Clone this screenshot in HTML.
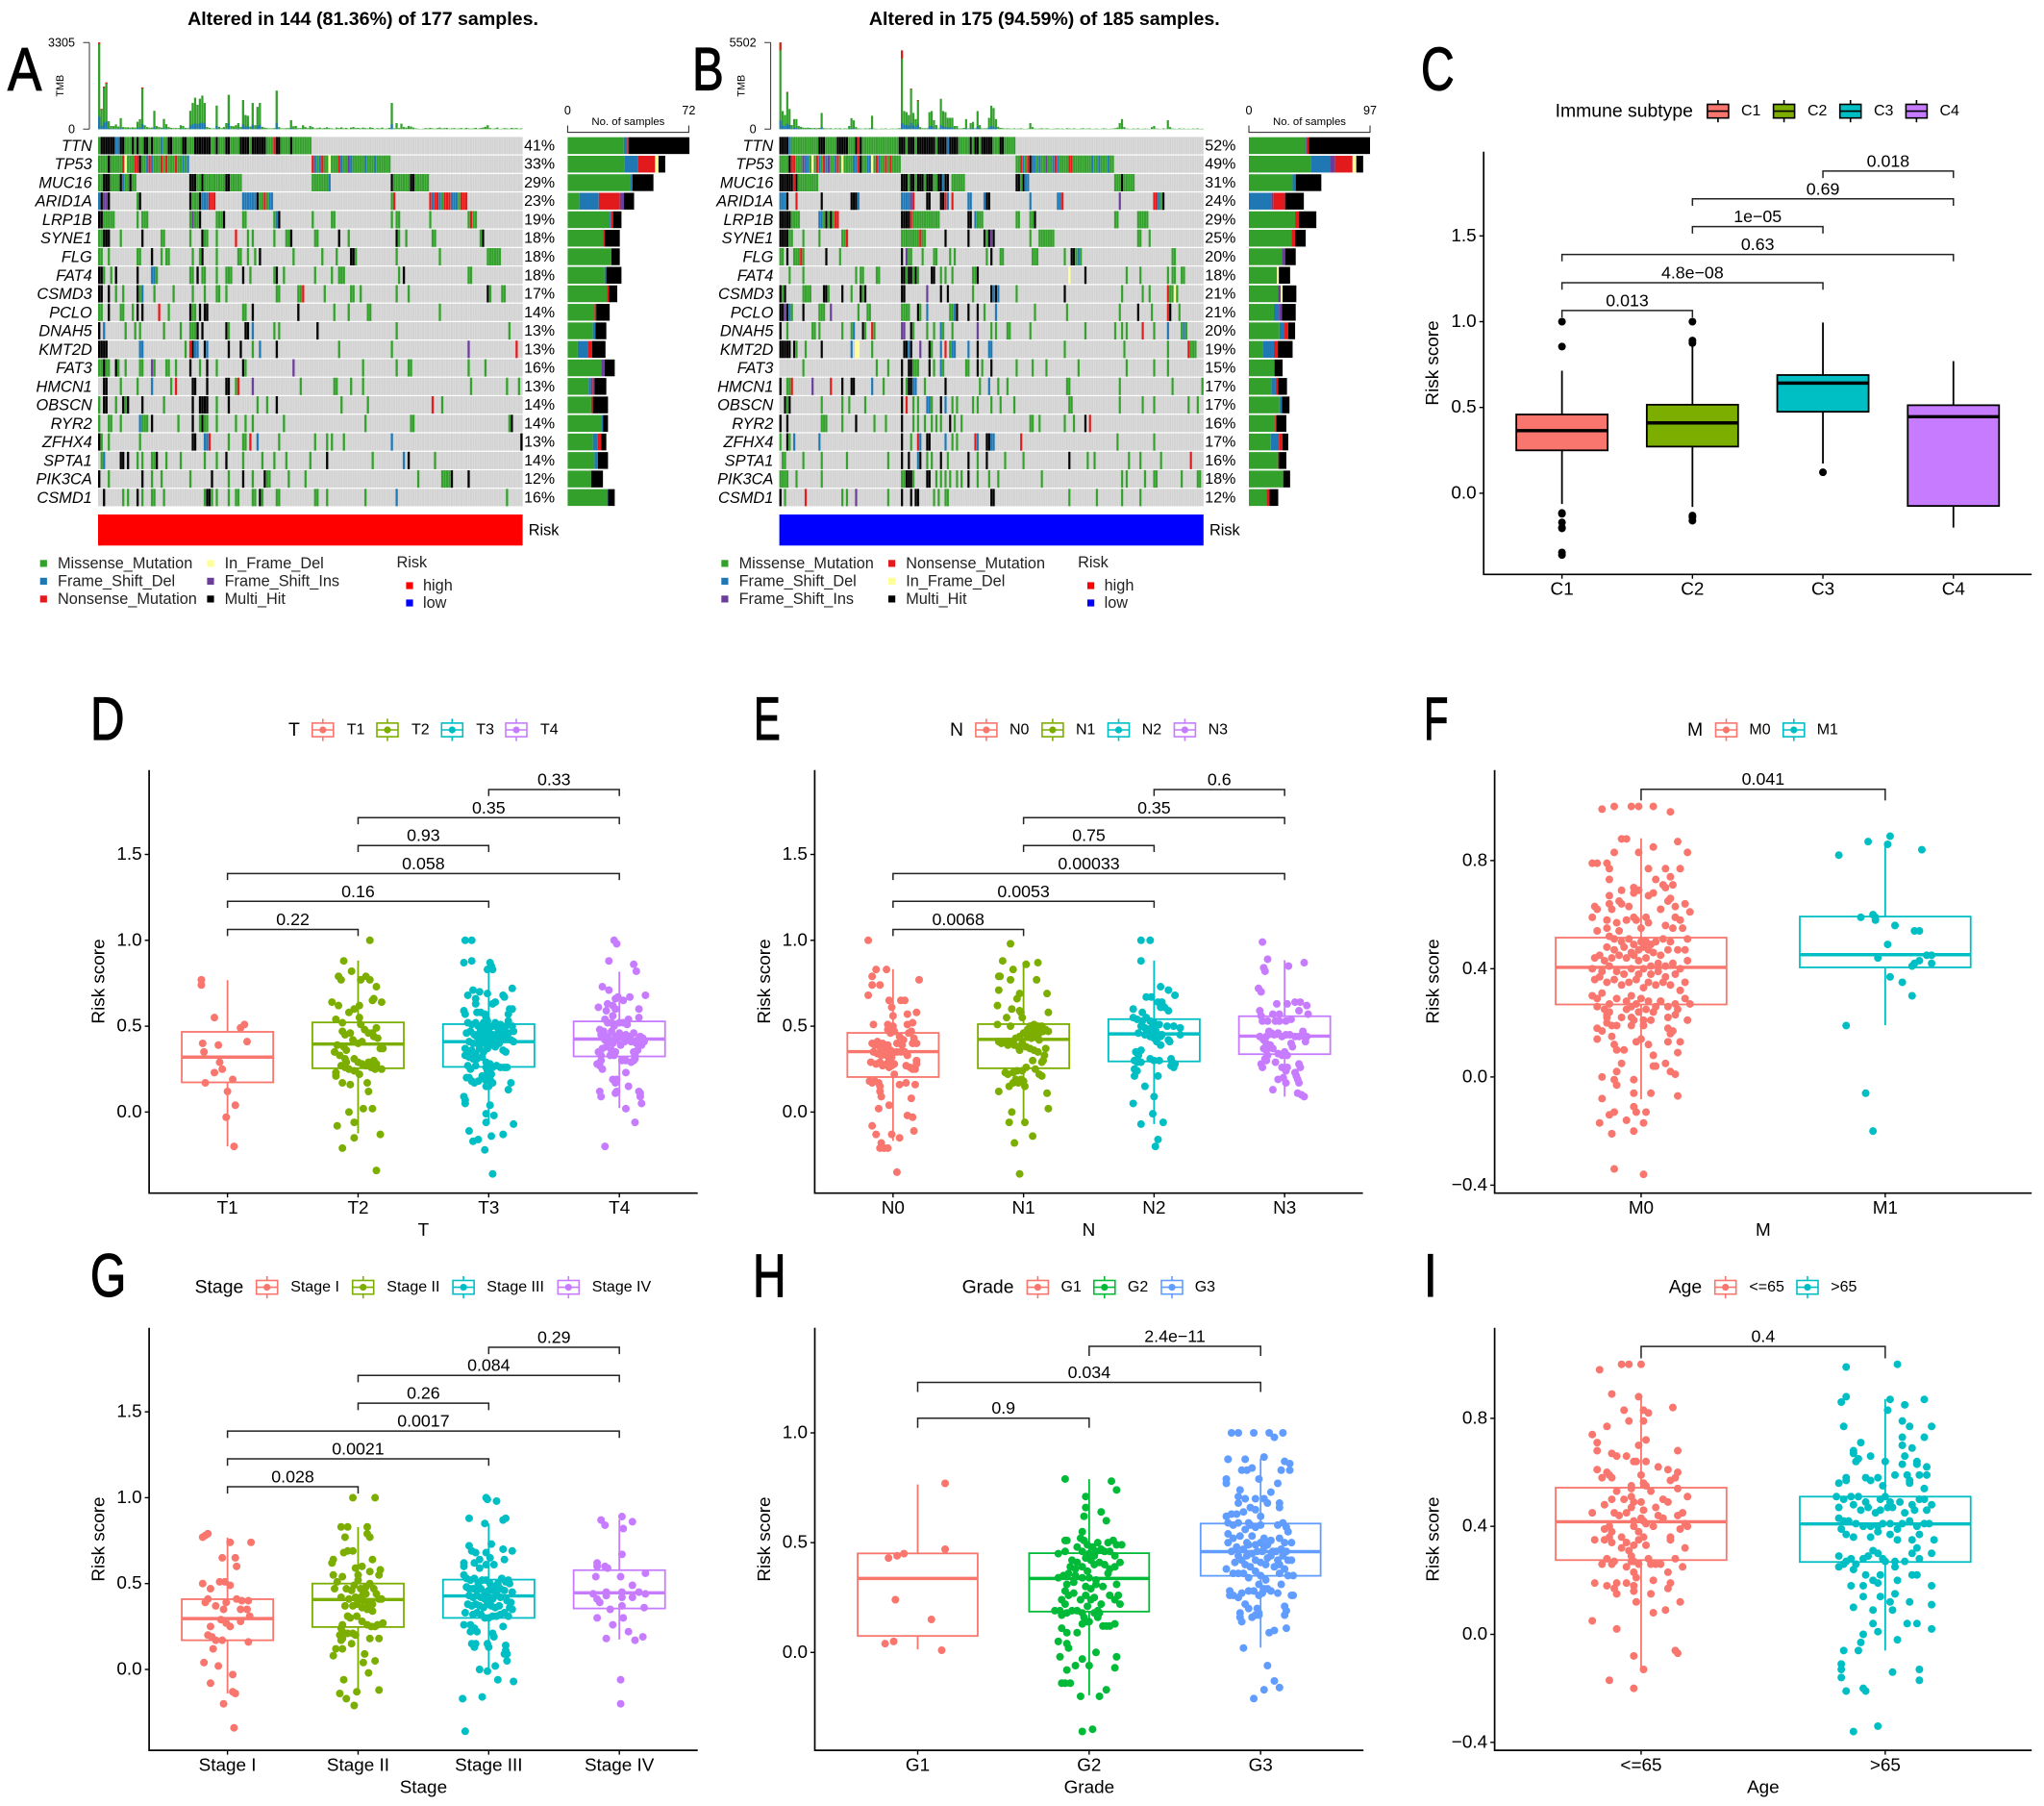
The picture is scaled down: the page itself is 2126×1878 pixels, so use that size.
<!DOCTYPE html>
<html lang="en">
<head>
<meta charset="utf-8">
<title>Risk score figure panels A-I</title>
<style>
html,body{margin:0;padding:0;background:#fff;}
svg{display:block;font-family:"Liberation Sans",Arial,sans-serif;}
.letter{font-size:63px;fill:#000;stroke:#000;stroke-width:1.2px;}
</style>
</head>
<body>
<svg id="figure" xmlns="http://www.w3.org/2000/svg" width="2126" height="1878" viewBox="0 0 2126 1878">
<rect width="2126" height="1878" fill="#fff"/>
<text class="letter" transform="translate(8,93.5) scale(.84,1)">A</text>
<text class="letter" transform="translate(720,93.5) scale(.78,1)">B</text>
<text class="letter" transform="translate(1478,93.5) scale(.76,1)">C</text>
<text class="letter" transform="translate(94,769) scale(.78,1)">D</text>
<text class="letter" transform="translate(784,769) scale(.66,1)">E</text>
<text class="letter" transform="translate(1481,769) scale(.66,1)">F</text>
<text class="letter" transform="translate(94,1348) scale(.76,1)">G</text>
<text class="letter" transform="translate(783,1348) scale(.76,1)">H</text>
<text class="letter" transform="translate(1481,1348) scale(.78,1)">I</text>
<text x="377.5" y="19.8" font-size="19.6" font-weight="bold" text-anchor="middle" dominant-baseline="central">Altered in 144 (81.36%) of 177 samples.</text>
<text x="1086.3" y="19.8" font-size="19.6" font-weight="bold" text-anchor="middle" dominant-baseline="central">Altered in 175 (94.59%) of 185 samples.</text>
</svg>
<script>
/* ---------- oncoplot data ---------- */
const geneNames=["TTN","TP53","MUC16","ARID1A","LRP1B","SYNE1","FLG","FAT4","CSMD3","PCLO","DNAH5","KMT2D","FAT3","HMCN1","OBSCN","RYR2","ZFHX4","SPTA1","PIK3CA","CSMD1"];
const variantColors={m:"#33a02c",b:"#1f78b4",r:"#e31a1c",p:"#6a3d9a",y:"#ffff99",k:"#000000"};
const aPercentLabels=["41%","33%","29%","23%","19%","18%","18%","18%","17%","14%","13%","13%","16%","13%","14%","14%","13%","14%","12%","16%"];
const bPercentLabels=["52%","49%","31%","24%","29%","25%","20%","18%","21%","21%","20%","19%","15%","17%","17%","16%","17%","16%","18%","12%"];
/* each token: first sample index, variant letter, run length */
const aMutationRuns=[
"0m1 1k6 7b2 9k2 11m3 14k1 15m1 16k1 17m2 19k2 21m1 22k1 23m3 26b1 27m2 29k2 31m4 35k2 37m3 40k7 47m2 49k1 50m3 53k2 55m4 59k4 63m1 64k6 70m3 73r1 74k2 76m4 80k1 81m8",
"0m4 4k1 5m5 10r1 11y1 12m3 15r2 17k1 18m2 20b1 21r1 22b1 23m3 26r1 27m1 28r1 29m3 32r1 33m2 35b1 36m1 37b1 89r1 90b1 91m1 92b1 93r1 94m2 96y1 97m3 100r1 101b1 102m2 104p1 105b1 106m5 111b1 112m3 115b1 116m6",
"0m2 2k3 5m4 9k1 10b1 11m2 13k1 14m2 38k3 41m2 43k1 44m9 53k2 55m5 89m7 96b1 122k1 123m7 130k2 132m6",
"0b1 1k1 2p2 4k1 16m1 17k1 38k1 39m3 42k1 43b3 46r3 60b6 66k1 67m2 69r1 70m1 71b2 122m1 123r1 138r1 139b1 140r2 142b1 143m1 144r3 147b3 150m1 151r3",
"0k2 2m5 16m1 18m3 38m1 39p1 40m2 42k1 49m3 52k1 60m2 73m1 74b1 75k1 89m1 97m2 122m1 124m2 138m1 154m1 155r1 156m2",
"0m2 2k3 9m1 18k1 26m2 38m1 43k1 44m2 49m1 57r1 62m1 64m1 73m1 78m2 80k1 90m2 100k1 104m1 124k1 125m1 128m1 139m2 159m1 160k1",
"0m2 4m1 16m2 22k1 26m1 28m2 39m1 42m1 43k1 49m1 58m2 62m1 65m1 67k1 81m1 93m1 99m1 105k2 107m1 124m1 142m1 162m6",
"0k2 2m1 5m1 7k1 16k1 22b2 24m1 38m2 41k1 43m2 49m1 53m3 60k1 63m1 73m1 74k1 77m1 90m1 97m1 100m3 125m1 127k1 154m2",
"0k2 4k1 7m1 10m1 16k1 17m1 18b1 23m1 31m1 39m1 44m1 49m2 53m1 74m2 83m2 85r1 94m1 105m2 109m1 124m1 129m1 162k1 163m1 168m2",
"0m2 4k1 9m2 14m1 16k1 18k1 25r1 29m1 38k1 39m2 42k1 44k2 60m2 64k1 83k1 98m1 104m1 112m2 142m1",
"0k1 2b1 11m1 15m1 17m1 27m1 34m1 38m3 41k1 43k1 53k1 54m1 61k2 64b1 73m1 75m1 91k1 124m1 171m1",
"0k4 17b2 36m1 38r1 39k1 40b2 44k1 45b1 54k1 59k1 64m1 67b1 74k1 100m1 122m1 154p1 174r1",
"0m2 2k1 3m2 7k1 8m1 11m1 17m2 22p1 23m1 28m2 32m1 38k1 42m1 45k1 49m1 60k1 61m1 81p1 110m1 124m1 129m2 154m1 161m1",
"2k2 9m1 16m1 22b1 30m1 32r1 39k2 45k1 53k2 57m1 58r1 64p1 84m1 98m2 105m1 110m1 155m1 170m1 175m1",
"0m1 2k2 7m1 10k1 11m1 12k1 18k1 27m1 39k1 42k4 49m1 54k1 66m1 70m1 74k1 101m1 112m1 139r1 143m1",
"0m1 4m2 9m1 17b1 18m3 22k1 33m1 39k1 42m1 43k1 44m2 49m1 57m1 61m1 64m1 77m1 111m1 130m2 171m1 172k1",
"0k1 1m1 4m1 17m1 39k2 44b2 46r1 54m1 60m2 63r1 66b1 75m1 90m1 95m1 97m1 102m1 122b1 176k1",
"1m1 2b1 9k2 12k1 16m1 18m1 22m2 24k1 28m1 34m1 44m1 49m1 53k1 60m1 68m1 73m1 78m1 88m1 95k1 114m1 127b1 129k1 140m1",
"0k1 4m1 18k1 22m1 26m1 38m1 47k1 54m1 60k1 64m1 69k1 70m2 79m1 86m1 133m1 143m4 147k1 154k1",
"2k1 10m1 12m1 16k1 18m1 22m2 27m1 44m1 45k2 47m1 49m1 54m1 57m2 64m2 67k1 68m1 74m2 90m2 95m1 111m1 124b1 170m1"];
const bMutationRuns=[
"0k4 4b1 5m12 17k3 20m5 25k5 30m3 33k1 34r1 35k1 36m16 52k3 55m1 56k3 59m1 60k8 68m1 69k4 73b1 74k4 78m5 83k1 84m1 85k2 87m1 88k5 93m3 96k2 98m5",
"0m4 4k1 5r2 7m3 10p1 11b2 13m1 14y1 15m1 16r1 17b1 18m1 19r1 20b1 21p1 22m2 24b1 25r1 26m1 27y1 28m4 32b2 34r1 35k1 36m2 38b2 40y1 41m1 42r1 43b1 44m2 46r1 47m1 48r1 49m4 103m2 105r1 106b1 107m1 108r1 109k1 110b2 112m1 113b1 114m2 116p1 117m2 119b1 120r1 121b1 122m4 126r2 128m8 136b1 137m2 139b1 140m3 143b1 144m2",
"0k6 6r1 7k1 8m9 53k3 56m1 57k2 59m1 60k3 63m1 64k3 67m2 69k2 71b1 72k2 75m6 103k2 105m1 106k1 107b2 146m3 149k1 150m5",
"0b3 3k1 7r1 18k1 31k3 34b1 53b4 57p1 58r1 64k2 70k2 72r1 73b1 75r1 82b2 89b1 90k2 109b1 121b2 123r1 148p1 163r2 165b1 166m1 167k1",
"0k5 5m4 17b2 19m1 20k1 21m1 22k1 23m1 24r2 53k4 57r1 58m12 82k2 85b1 86m3 103m2 109m2 111k1 146m2 156m5",
"0k4 4m2 10m1 17m1 27m3 29r1 53m8 61r1 62m2 72k1 82k1 89k1 90m1 91k1 92p1 93k1 109m1 113m7 156m2 161m1",
"0m2 3k1 6m3 9r1 10m1 20k1 26m1 53k1 55p1 56m2 62m1 67m2 74m1 76m1 90m1 92k1 96m2 110m3 124m1 127k2 129m1 130b1 131m1 171m2",
"4m1 10m1 33m1 35m2 42m2 53k2 55m1 56k2 58m1 59k1 60m1 66k2 70m1 72m1 75m1 84m2 86k1 126y1 133k1 151m1 157m1 169m1 171m2 175m2",
"0k1 1m1 2k1 10m4 19k2 21m1 27k1 31m1 35k1 36m1 37k1 53k2 64p1 70k1 73k1 84m1 92k1 93b1 94k1 95b1 103m1 124k1 149m1 158m1 161m1 169r1 170m2 172y1 173m1",
"0k2 2p1 3k1 4b1 5m1 10k1 17m3 22p1 34m1 38m2 53m4 60k1 61m1 64b1 74m2 76b1 77k1 82k1 86k1 89m1 94b1 111m1 125m1 148m1 156k1 162m1 169r1 170k1 174m1",
"0k1 3m1 14m2 17m1 27m1 31m1 32b1 36k1 37m1 40r1 41m1 53p2 57k1 58m1 64m1 67m1 70b1 71m1 75m1 86p1 92m1 94m1 99m2 109m1 133m1 146m1 149m1 151m1 158r1 163m1 169b1 175m1 176b1 177m1",
"0k5 6k1 7m1 11m1 18k1 31b1 33y2 40m1 54k2 56b1 57k1 61p1 65k1 66m1 70b1 72r1 74m1 75b2 82b1 86k1 91b2 124m1 150m1 169m1 178r1 179m3",
"10m1 42m1 47m1 53k1 56k2 58m3 65k1 67m1 70b1 71m1 81m2 86k1 88m1 92k1 103m1 110m1 116m1 130m1 151m1 163m1 169m1",
"0k1 3m2 5r1 14p1 22r1 27k1 31k2 40b1 45m1 53k1 55m1 56k2 58b2 63m1 72k1 87m1 91b1 95m1 99m1 125m2 148m1 171m1 184m1",
"2k1 3m1 4k1 18m1 27m1 30m1 37m1 53k1 55r1 58m1 60m1 64b2 66m1 70k1 72b1 75m1 77m1 84m1 86m1 92m1 96m1 102m1 126m2 148m1 158m1 163m1 178m1 182m1",
"0k1 3k1 18m3 27m1 33k1 41m1 46m1 53k1 58m1 60m1 63m1 66m1 68m1 70m1 74k1 76m1 79m1 109m2 113m1 124m1 128m1 133k1 135r1",
"0m1 3k1 4m1 6b1 17b1 53k1 57m1 60r1 61b1 64k2 72b1 75m1 77m1 85r1 86b1 90k2 92b2 105r1 147m1 163m1",
"1m2 10m1 18m1 29m1 47m1 53k1 56k1 60b1 61k1 64m1 66m1 70k1 73m1 82k1 86m1 90k1 98m1 106m1 126k1 134m1 137m1 152m1 157m1 166m1 179r1",
"0m4 7m1 18m1 53m2 55k3 58m1 64k2 68m1 70m1 72m1 74m1 77m1 79m1 82k1 86m1 91m1 95m1 114m1 149m1 151m1 159m1 163m2 175m1 182m2",
"0k1 2m1 11r1 27m1 29m1 33p1 47m1 53k1 57k1 59k2 67m1 69m1 72m2 92k2 126m1 138m1 149m1 157m1"];
/* tumour mutation burden per sample */
const aTmbTotals=[3305,770,1620,1780,300,120,120,180,100,420,80,70,70,60,70,60,280,380,1590,150,80,60,60,700,120,80,60,390,190,80,50,40,40,40,150,120,50,40,700,1000,1200,930,1160,1280,1000,80,50,30,30,900,90,40,80,230,1310,120,110,150,230,80,1110,540,510,100,1000,150,850,1000,90,60,40,30,30,40,1470,80,30,30,40,40,340,110,120,40,40,150,80,40,120,80,30,40,60,30,50,70,40,30,20,60,40,70,30,50,20,60,80,40,50,30,60,40,30,70,50,20,40,30,60,20,30,50,1000,30,230,40,210,80,60,120,100,60,30,20,10,20,40,30,50,30,20,40,60,30,40,50,20,30,40,20,30,40,20,50,30,20,30,50,20,40,60,90,150,40,20,30,60,10,20,40,30,20,50,30,40,20,30];
const aTmbBlue=[480,120,250,300,30,10,10,20,10,50,5,5,5,5,5,5,40,60,200,10,5,5,5,80,10,5,5,40,20,5,5,0,0,0,15,10,5,0,130,190,210,190,230,260,220,5,0,0,0,120,5,0,5,20,230,10,5,15,20,5,190,100,100,5,170,10,130,170,5,5,0,0,0,0,230,5,0,0,0,0,40,10,10,0,0,10,5,0,10,5,0,0,0,0,0,0,0,0,0,0,0,0,0,0,0,0,0,0,0,0,0,0,0,0,0,0,0,0,0,0,0,0,190];
const aTmbRed=[60,30,40,50,0,0,0,0,0,0,0,0,0,0,0,0,0,0,40];
const bTmbTotals=[5502,1150,900,2360,1280,260,640,640,200,150,100,80,100,80,60,80,60,80,1030,60,50,40,60,30,50,40,60,30,50,40,200,700,560,130,50,40,30,50,40,60,850,40,30,20,40,30,50,20,30,40,30,40,60,5000,1150,1080,900,2570,1030,640,1850,130,60,60,60,1080,1150,570,260,50,1930,1150,1080,720,720,720,200,200,50,50,80,640,50,390,460,60,1150,260,50,50,60,720,1490,1340,640,150,80,60,40,50,40,30,50,30,40,50,30,20,40,390,130,40,30,40,60,30,50,40,20,30,40,50,30,40,20,60,40,30,50,30,20,40,60,30,40,50,20,30,40,20,30,50,40,20,30,40,60,100,390,640,130,40,30,20,40,30,50,20,30,40,30,20,130,200,40,30,20,50,30,570,130,40,30,20,50,30,40,20,30,20,40,30,50,20,30];
const bTmbBlue=[560,240,200,340,260,40,90,90,30,20,10,10,10,10,10,10,10,10,120,5,5,5,5,0,5,0,5,0,5,0,20,60,50,10,5,0,0,0,0,5,60,0,0,0,0,0,0,0,0,0,0,0,5,400,280,260,220,400,240,150,300,15,5,5,5,180,200,100,30,5,260,170,150,100,100,100,20,20,5,5,10,60,5,50,60,5,160,30,5,5,5,110,190,170,90];
const bTmbRed=[500,0,0,40,0,0,0,0,0,0,0,0,0,0,0,0,0,0,0,0,0,0,0,0,0,0,0,0,0,0,0,0,0,0,0,0,0,0,0,0,0,0,0,0,0,0,0,0,0,0,0,0,0,510,0,0,0,40,0,0,40];
const aTmbTicks=["3305","0"];
const bTmbTicks=["5502","0"];
/* sample counts per gene, by variant class */
const aBarMissense=[33.4,34,37,7,25,21,26,22,23.5,16,15,6,20,12.5,14,20,15,16,14,23.5];
const aBarFrameDel=[2,8,1.5,11.5,1,0,0,1,0,0,1.5,6,0,1.5,0,1,3,2,0,.5];
const aBarNonsense=[1,10,0,12.5,1,1,0,0,1,1,0,2.5,0,1,1,0,2,0,0,0];
const aBarFrameIns=[0,0,0,2.5,0,0,0,0,0,0,0,0,2,1,0,0,0,0,0,0];
const aBarInFrame=[0,2,0,0,0,0,0,0,0,0,0,0,0,0,0,0,0,0,0,0];
const aBarMultiHit=[36,4,12.5,6,5,9,5,9,5,8,6.5,8,6,7,9,3,3,6,7,4];
const bBarMissense=[45,49.5,35,0,37,34,26.5,22.5,23.5,20,24.5,11.5,20.5,18,24.5,21,17.5,23,27.5,14];
const bBarFrameDel=[1,15.5,2.5,18,0,0,0,0,0,4,4,8.5,0,3.5,2,0,6.5,0,0,0];
const bBarFrameIns=[0,4,0,1.5,0,0,2.5,0,2,2.5,0,0,0,0,0,0,0,0,0,0];
const bBarNonsense=[2,14,0,9.5,3,3,0,0,0,0,3,3,0,2,0,1,3,1,0,2.5];
const bBarInFrame=[0,3,0,0,0,0,0,1.5,1.5,0,0,0,0,0,0,0,0,0,0,0];
const bBarMultiHit=[49,5.5,20.5,15,14,8.5,8.5,9,11,11,5.5,12,6.5,7,6,8,4.5,6,5.5,7];
const aLegendColumnOne=[["Missense_Mutation","m"],["Frame_Shift_Del","b"],["Nonsense_Mutation","r"]];
const aLegendColumnTwo=[["In_Frame_Del","y"],["Frame_Shift_Ins","p"],["Multi_Hit","k"]];
const bLegendColumnOne=[["Missense_Mutation","m"],["Frame_Shift_Del","b"],["Frame_Shift_Ins","p"]];
const bLegendColumnTwo=[["Nonsense_Mutation","r"],["In_Frame_Del","y"],["Multi_Hit","k"]];

/* ---------- box-plot data: [low whisker, q1, median, q3, high whisker] ---------- */
const riskTickLabels=["1.5","1.0","0.5","0.0"];
const riskTickValues=[1.5,1,.5,0];
const wideTickLabels=["0.8","0.4","0.0","\u22120.4"];
const wideTickValues=[.8,.4,0,-.4];
const gradeTickLabels=["1.0","0.5","0.0"];
const gradeTickValues=[1,.5,0];

const cCategories=["C1","C2","C3","C4"];
const cBoxes=[[-.063,.25,.365,.459,.714],[-.08,.272,.41,.516,.87],[.173,.475,.642,.689,.995],[-.2,-.074,.446,.513,.77]];
const cOutliers=[[1,.855,-.115,-.12,-.17,-.2,-.205,-.345,-.36],[1,.89,.875,-.13,-.14,-.16],[.122],[]];
const cBrackets=[[2,3,1.878,"0.018"],[1,3,1.716,"0.69"],[1,2,1.554,"1e\u221205"],[0,3,1.392,"0.63"],[0,2,1.227,"4.8e\u221208"],[0,1,1.065,"0.013"]];

const dCategories=["T1","T2","T3","T4"];
const dBoxes=[[-.2,.173,.32,.467,.768],[-.124,.255,.396,.522,.882],[-.067,.263,.41,.512,.817],[.023,.324,.425,.528,.817]];
const dBrackets=[[2,3,1.878,"0.33"],[1,3,1.714,"0.35"],[1,2,1.552,"0.93"],[0,3,1.389,"0.058"],[0,2,1.227,"0.16"],[0,1,1.063,"0.22"]];
/* jitter (hundredths of category spacing), risk score x100, alternating */
const dScatterT1=[-20,77,-20,74,-10,55,10,49,13,51,-19,40,-7,39,15,41,-18,35,-6,29,-10,23,-4,25,-17,17,4,19,0,12,6,4,-1,-3,5,-20];
const dScatterT2=[9,100,-11,88,-5,82,-15,79,-13,77,2,77,6,79,9,77,14,73,-20,64,-15,62,11,65,12,66,18,64,1,62,-3,60,-7,58,-17,54,1,55,-12,52,2,51,14,49,-12,47,-10,45,-6,46,5,48,8,46,11,46,15,43,12,44,-4,42,0,40,3,41,-16,39,-11,38,-9,36,-18,35,17,37,19,37,-14,33,-10,31,-9,29,-3,31,0,29,3,28,8,29,12,30,14,28,-13,27,-10,26,-7,25,-3,24,1,22,6,27,10,26,13,25,18,25,-17,23,-17,21,-12,17,-6,16,7,17,8,12,4,2,11,2,-7,0,-16,-8,-3,-6,-3,-15,17,-13,-12,-21,14,-34];
const dScatterT3=[-18,100,-13,100,-19,87,-13,88,1,87,2,85,-1,83,3,83,18,72,-12,71,-7,70,-1,69,-16,68,11,68,12,67,-10,66,5,64,-10,63,3,63,-18,57,-19,59,-9,58,-6,58,-3,57,-2,55,-1,53,16,60,18,60,15,57,-16,52,-13,51,-10,52,-8,50,-6,48,-4,52,-2,50,0,47,3,50,5,52,7,49,9,51,11,47,13,50,15,53,18,50,19,47,-17,46,-14,47,-11,45,-9,44,-7,46,-5,43,-3,46,-1,44,1,42,3,45,5,44,7,46,9,43,11,45,13,44,15,46,17,42,19,41,-15,41,-12,40,-9,40,-6,41,-3,40,-1,37,2,39,5,38,8,40,11,36,13,35,-18,37,-16,35,-13,36,-10,34,-7,37,-4,35,-18,33,-15,32,-12,31,-9,31,-5,32,-2,29,1,28,3,26,6,27,9,26,12,26,14,26,-2,26,-1,24,0,22,2,22,-10,27,-16,27,-14,25,-17,20,-15,20,-13,18,-11,17,-8,18,-5,21,-3,19,-1,18,1,19,3,17,-2,15,0,15,17,17,15,13,-19,9,-18,7,-18,5,1,4,-2,-1,4,-2,19,-7,-2,-6,-15,-11,-12,-17,-8,-16,-3,-22,2,-14,11,-13,3,-36];
const dScatterT4=[-4,100,-2,98,-8,88,11,86,13,82,-13,73,-8,71,20,68,8,67,-1,67,-9,63,-3,66,3,65,-16,61,-10,59,-5,62,-3,60,15,60,7,54,15,55,-5,56,-11,54,-9,52,-6,52,-4,50,0,52,3,52,6,51,-14,45,-15,48,-12,47,-9,44,-6,47,-3,44,0,46,2,44,5,45,8,44,11,46,14,42,16,44,18,43,-11,42,-8,41,-5,40,-2,42,1,39,4,41,9,41,13,40,17,39,19,41,-16,35,-13,37,-10,38,-6,36,-3,35,-7,33,-4,33,11,35,14,36,12,33,-14,33,-14,30,-17,28,-15,27,-13,25,2,30,5,30,11,30,12,31,9,29,5,23,-3,17,-2,19,-5,19,-15,12,-14,9,-3,11,-2,12,7,15,15,12,16,11,16,9,17,5,5,2,12,-6,-11,-20];

const eCategories=["N0","N1","N2","N3"];
const eBoxes=[[-.168,.204,.352,.461,.832],[-.067,.255,.423,.512,.874],[-.07,.295,.455,.541,.882],[.09,.337,.442,.558,.884]];
const eBrackets=[[2,3,1.878,"0.6"],[1,3,1.714,"0.35"],[1,2,1.552,"0.75"],[0,3,1.389,"0.00033"],[0,2,1.227,"0.0053"],[0,1,1.063,"0.0068"]];
const eScatterN0=[-19,100,-13,83,-5,83,-16,79,-16,74,-10,74,20,77,-19,68,-3,65,6,65,9,65,-1,61,0,56,11,57,18,58,-15,51,-4,51,0,50,11,51,15,52,-4,48,-2,46,1,47,5,44,8,42,12,46,14,47,16,43,3,40,7,39,15,40,18,40,-16,40,-14,39,-12,41,-10,38,-8,40,-6,37,-4,39,-2,36,0,35,3,35,6,35,9,35,11,33,-15,35,-12,34,-9,33,-7,35,-5,33,-3,30,-1,32,-17,29,-13,28,-10,29,-8,27,-5,28,-3,26,-1,27,1,28,10,27,13,26,15,25,17,25,18,30,18,28,1,22,-18,18,-16,17,-14,18,-11,17,-10,15,-10,12,-9,9,5,16,10,17,17,16,-3,4,14,8,-11,2,11,-2,15,-3,-16,-8,16,-11,-13,-13,-1,-13,5,-15,-9,-18,-10,-21,-7,-21,-4,-21,3,-35];
const eScatterN1=[-10,98,-16,88,-8,83,2,86,11,87,-19,79,-18,79,-10,77,10,77,-19,71,-3,69,18,69,-5,66,-20,62,-9,60,-3,59,-2,58,19,58,-13,55,-1,55,-20,51,-10,50,5,50,8,51,11,50,14,50,17,48,3,48,6,46,9,48,12,46,15,47,19,47,0,46,3,44,6,43,9,44,12,42,-3,44,-6,43,-9,41,-12,41,-15,41,-19,41,-17,40,-7,39,-4,38,-1,40,2,38,5,37,8,36,11,35,-12,39,-3,36,17,37,16,33,15,30,14,29,7,30,2,26,9,25,-1,24,-5,24,-8,23,-12,22,-14,23,12,22,14,21,-2,19,0,18,-4,17,-8,17,-11,15,-6,19,1,15,-19,12,18,11,19,2,-9,0,-11,-6,1,-6,7,-14,-7,-18,-3,-36];
const eScatterN2=[-10,100,-3,100,-10,88,5,73,11,71,16,68,-6,67,-2,67,3,64,6,64,5,61,8,61,-16,60,-9,58,11,59,-16,55,-13,54,-9,53,-6,55,-3,53,0,52,4,51,10,50,15,50,-10,50,-7,49,-5,48,-2,49,1,48,-1,46,2,46,5,44,-7,45,-3,44,0,43,-12,46,20,49,20,45,6,45,11,42,12,41,5,39,2,41,-10,36,-14,35,-12,33,-15,30,-13,29,-10,29,-3,31,0,30,4,30,13,31,14,29,16,28,13,27,15,26,-15,25,-13,24,-15,21,3,21,-7,15,0,9,-16,5,-1,-1,-10,-7,7,-6,3,-16,1,-20];
const eScatterN3=[-17,99,-13,89,-16,84,-15,82,3,85,15,87,-20,72,-18,70,-6,63,2,63,8,64,12,64,17,62,-19,59,11,59,-9,57,-4,57,18,57,-18,56,-17,53,-13,53,-7,53,-4,53,1,53,5,54,-12,47,-14,44,-17,43,-19,44,-16,42,-10,46,-8,45,-5,46,-2,44,1,45,4,45,8,44,11,44,14,47,15,44,17,44,16,41,-14,40,-11,39,-9,37,-16,37,-14,36,5,40,6,38,-5,34,-2,33,0,35,2,33,-13,33,-15,31,-18,28,-17,26,-14,30,-7,29,-2,26,2,26,11,28,12,26,1,24,8,23,9,21,10,19,-5,19,-1,20,1,17,11,17,-9,13,10,11,13,10,15,9];

const fCategories=["M0","M1"];
const fBoxes=[[-.082,.268,.405,.515,.882],[.191,.405,.452,.593,.86]];
const fBrackets=[[0,1,1.0635,"0.041"]];
const fScatterM0=[-16,99,-11,100,-4,100,-1,100,5,100,12,98,-8,88,-6,88,15,87,5,85,-11,83,19,83,-1,83,-20,79,-18,79,-14,79,-13,77,3,77,10,77,16,77,-13,73,6,73,12,74,9,71,10,70,13,71,-8,69,-3,70,-3,68,-1,69,-13,67,5,68,3,67,11,65,12,66,18,64,-9,65,-8,64,-5,63,14,63,-19,63,-18,62,-13,64,-12,62,8,62,20,61,-20,59,-14,58,-3,59,2,59,14,59,16,58,-10,57,-6,58,-2,58,3,57,10,56,17,55,13,55,-14,55,-18,54,0,55,-9,54,-13,52,-11,51,-8,50,-5,51,-3,49,0,50,2,50,4,49,6,50,9,51,12,50,19,51,-14,48,-11,47,-7,48,-4,46,-1,47,1,48,3,47,5,46,8,45,11,47,15,47,18,47,19,43,-19,44,-17,45,-15,43,-12,44,-9,45,-6,44,-3,45,-1,43,2,44,4,41,7,42,10,41,13,42,16,40,-20,40,-16,39,-13,41,-10,39,-7,38,-4,40,-1,38,1,40,4,38,7,39,10,37,14,38,18,35,-19,36,-17,37,-14,35,-11,36,-8,34,-5,35,-2,36,1,33,3,35,6,34,9,35,12,34,16,32,-20,30,-18,29,-16,31,-13,27,-10,29,-6,28,-4,30,-2,27,0,29,3,28,6,26,8,28,11,26,14,27,18,29,20,27,-18,26,-15,25,-13,24,-6,25,-4,26,-1,24,2,25,5,24,8,28,15,25,-14,23,-8,22,-4,22,-3,21,-4,19,1,21,4,21,-14,22,19,21,11,22,14,23,1,19,-18,18,-16,17,-14,20,-12,19,-10,19,11,18,13,17,12,16,-18,14,-12,15,-2,13,0,14,3,12,11,13,16,13,-11,12,-10,10,-7,10,15,9,5,8,-8,5,5,4,6,4,10,5,-10,2,12,2,14,1,-16,0,-11,-1,-10,-3,-3,-1,-3,-6,4,-6,15,-7,-16,-8,-3,-11,-2,-13,-11,-13,-13,-14,2,-13,-17,-17,-6,-16,1,-17,-3,-20,-12,-21,-12,-21,-11,-34,1,-36];
const fScatterM1=[-19,82,-7,87,2,89,1,86,15,84,-10,59,-5,60,-4,59,-4,58,4,56,12,54,14,54,1,49,17,45,19,45,-3,44,14,43,12,42,11,41,19,42,2,37,7,35,11,30,-16,19,-8,-6,-5,-20];

const gCategories=["Stage I","Stage II","Stage III","Stage IV"];
const gBoxes=[[-.14,.17,.296,.409,.768],[-.13,.247,.407,.5,.829],[-.008,.3,.428,.523,.849],[.174,.355,.446,.578,.873]];
const gBrackets=[[2,3,1.876,"0.29"],[1,3,1.712,"0.084"],[1,2,1.55,"0.26"],[0,3,1.388,"0.0017"],[0,2,1.226,"0.0021"],[0,1,1.064,"0.028"]];
const gScatterStageI=[-17,78,-19,77,-15,79,2,74,18,74,-4,65,6,65,7,60,-19,50,-6,51,-2,51,2,49,-13,47,-15,41,-17,39,-9,37,-1,39,-3,35,7,41,11,40,16,40,10,35,15,35,17,31,10,28,-5,29,-1,27,2,25,-13,25,-15,20,-12,19,-9,17,-4,17,16,16,-11,12,-18,4,-7,2,4,-3,-13,-8,4,-13,6,-14,-3,-20,5,-34];
const gScatterStageII=[-4,100,13,100,-13,83,-8,83,7,83,-10,77,7,79,9,77,-8,69,-11,68,-4,69,-19,64,-20,62,11,64,-2,59,3,60,17,58,0,55,-19,55,-12,54,9,57,16,55,-16,51,-18,47,-9,47,-5,46,-3,49,0,52,2,47,4,45,6,48,9,50,12,47,14,44,16,41,18,41,-13,42,-7,41,-2,42,0,40,2,42,4,40,6,44,8,38,11,38,-10,37,-4,37,-1,38,3,36,7,35,11,34,-8,31,-6,30,-1,31,3,28,7,26,10,25,13,25,15,26,19,27,-12,26,-13,24,-12,22,-14,20,-12,18,-8,21,-4,21,-2,20,-13,17,16,18,9,18,-17,12,-12,12,-19,8,-5,15,5,9,13,5,4,4,8,-2,-11,-6,16,-12,-14,-14,-9,-17,-3,-21,-1,-13];
const gScatterStageIII=[-2,100,-1,99,6,98,-15,88,11,87,13,88,-3,85,2,73,-15,72,-13,69,11,70,18,69,-10,68,-2,68,1,65,12,64,-7,64,-11,62,-19,62,-19,60,-7,59,-2,61,4,61,-19,55,-17,53,-14,52,-11,53,-8,50,-5,52,-2,52,1,50,4,48,7,50,10,53,13,51,15,52,16,50,-17,48,-15,47,-12,47,-9,46,-6,47,-3,45,0,46,3,46,6,45,9,47,12,46,18,45,-15,43,-12,42,-9,43,-6,42,-3,41,0,42,3,41,6,43,9,42,14,40,17,39,-16,38,-13,37,-10,38,-7,37,-4,36,-1,38,2,37,5,36,8,37,16,36,18,35,-18,33,-12,32,-9,33,-6,32,-3,30,0,30,3,31,6,31,9,32,12,33,15,31,-19,26,-14,26,-11,24,-14,22,-9,22,11,25,3,21,4,19,-13,15,-10,15,-11,13,-1,15,0,13,13,14,13,11,14,9,12,9,14,5,-7,0,-1,-1,5,2,7,-6,19,-7,-20,-17,-5,-16,-18,-36];
const gScatterStageIV=[-14,87,-11,84,2,89,3,82,10,86,2,67,-17,62,-17,60,-11,60,-9,59,-18,54,1,54,20,56,10,49,-20,44,-10,45,2,45,15,45,20,44,-17,41,-10,43,2,42,10,42,-15,39,-7,35,2,37,19,36,-17,30,3,30,-5,26,7,22,-10,18,12,17,18,19,1,-6,1,-20];

const hCategories=["G1","G2","G3"];
const hBoxes=[[.014,.075,.337,.451,.765],[-.195,.186,.337,.452,.789],[.022,.349,.459,.587,.884]];
const hBrackets=[[1,2,1.394,"2.4e\u221211"],[0,2,1.23,"0.034"],[0,1,1.067,"0.9"]];
const hScatterG1=[16,77,16,47,-17,43,-12,44,-8,45,-13,24,8,15,-19,4,-14,5,14,1];
const hScatterG2=[-14,79,13,78,16,74,-2,71,-2,66,7,64,-3,62,10,60,-4,55,-5,52,-14,51,-13,51,5,50,-3,51,-1,49,2,48,7,47,11,50,14,51,16,49,19,49,-18,45,-14,46,-7,48,-4,46,0,45,4,46,9,46,12,46,15,44,-10,42,-7,41,-2,43,1,42,3,44,6,41,9,40,18,41,-11,39,-8,38,-4,39,-1,37,3,40,12,38,15,39,-18,34,-15,35,-12,36,-8,35,-4,34,0,34,4,33,11,36,16,31,-13,31,-9,32,-2,30,1,29,4,31,8,30,-14,28,-12,26,-16,24,-9,27,-5,24,-2,26,1,24,3,25,12,26,17,26,15,24,18,22,-14,22,-1,21,3,18,7,22,5,19,-20,19,-17,19,-16,17,-13,18,-10,19,-7,19,-4,18,-3,16,-1,14,6,18,5,16,0,14,-4,13,8,12,10,12,12,12,15,13,-16,11,-13,9,-7,9,-18,5,-13,4,-12,2,-17,-2,4,0,16,-2,-4,-3,-8,-6,0,-6,15,-7,-13,-8,-11,-14,-16,-14,-14,-14,10,-17,-5,-20,6,-20,-4,-36,2,-35];
const hScatterG3=[-17,100,-13,100,-4,100,5,100,8,98,13,100,-19,88,-19,88,-9,88,2,89,14,87,17,86,-11,83,-8,83,-5,84,12,83,17,83,-1,79,-20,79,-20,77,10,77,6,73,-12,74,-13,71,-9,70,-3,70,2,70,4,68,11,68,11,66,-13,68,-6,66,-3,65,-20,62,-17,63,-14,63,-10,64,0,62,-19,59,-16,58,-13,59,-9,56,-6,58,-3,57,-7,59,0,58,10,58,13,59,15,57,16,55,-19,54,-16,52,-12,53,-8,50,-5,53,2,52,6,51,11,52,14,50,18,50,-19,50,-14,48,-10,47,-7,49,-3,49,0,50,2,48,4,49,7,46,9,46,12,47,15,46,-17,46,-13,44,-11,42,-8,44,-5,45,-2,46,1,46,4,43,6,44,10,42,13,44,16,42,18,42,-15,41,-9,40,-6,39,-3,42,0,41,3,40,8,39,11,40,14,38,-20,38,-16,36,-13,36,-10,36,-7,34,-3,37,0,35,3,33,11,36,16,35,19,35,-1,31,2,29,6,28,12,31,-18,28,-16,26,-13,25,-11,27,-7,28,-4,28,-1,26,1,27,4,29,10,27,18,26,19,26,-18,26,-9,22,-7,20,-2,20,-1,18,-12,18,-12,16,-11,14,-5,16,-3,17,-1,17,14,21,15,19,14,17,5,9,8,10,15,11,-10,2,4,-6,8,-13,2,-17,11,-16,-4,-21];

const iCategories=["<=65",">65"];
const iBoxes=[[-.133,.275,.417,.543,.88],[-.06,.268,.409,.51,.871]];
const iBrackets=[[0,1,1.066,"0.4"]];
const iScatterYounger=[-17,98,-8,100,-5,100,0,100,-12,89,-1,88,-7,83,1,83,3,82,13,84,-5,79,1,79,-14,77,-20,74,-18,71,-18,68,2,72,-1,70,15,68,-12,67,-10,66,-6,66,-3,64,-2,64,2,64,7,62,11,61,15,60,-18,61,-16,58,-14,60,-13,59,-12,58,0,59,14,58,12,57,1,56,2,55,-4,55,-4,54,15,54,-10,53,4,53,-4,51,9,50,11,49,19,51,-12,50,-7,50,0,49,-15,48,-3,49,6,47,-4,47,-20,45,-11,45,-9,44,-6,45,1,46,7,44,15,44,17,45,-3,42,0,43,2,41,5,40,9,43,18,41,19,40,-15,39,-13,40,-12,38,-3,40,-1,38,1,42,16,39,-19,35,-15,35,-13,36,-12,34,-8,36,-6,34,-3,33,-1,35,1,36,2,33,12,36,12,35,18,32,-8,32,-5,31,-4,29,-3,27,-16,26,-14,28,-12,26,-11,27,-4,27,-1,26,3,28,4,26,6,26,8,26,14,28,17,25,-6,25,-3,23,-2,21,-19,19,-14,18,-10,19,-6,19,-3,18,-3,16,-11,17,-10,15,4,15,5,20,12,19,11,17,11,23,-2,12,16,12,5,8,10,9,-20,5,-10,2,14,-6,15,-7,-3,-8,1,-13,-13,-17,-3,-20];
const iScatterOlder=[-16,99,5,100,-16,88,-18,86,2,87,16,87,8,85,1,83,7,79,10,77,19,77,-17,77,7,73,16,73,-10,71,7,70,11,69,-13,68,-13,67,-6,66,8,66,-11,65,-12,64,0,64,13,64,13,63,7,63,17,62,17,59,14,59,4,59,9,59,10,57,10,56,-16,58,-16,57,-19,56,-8,58,-6,57,-3,58,-1,55,16,54,-20,51,-17,50,-14,51,-11,51,-8,49,-2,50,0,51,2,49,3,47,6,49,11,48,14,50,16,50,19,48,-19,47,-13,48,-10,46,-7,47,-4,45,-2,46,1,47,8,45,12,46,17,46,-19,43,-17,42,-15,42,-12,41,-9,40,-6,40,-3,40,-1,41,2,41,5,39,7,41,10,42,13,40,16,41,18,41,-18,39,-16,37,-13,36,-6,36,-3,38,2,37,5,35,11,35,14,37,20,35,-19,29,-16,27,-14,28,-12,26,-9,28,-7,29,-5,31,-3,30,-1,28,0,27,4,27,8,27,11,30,13,32,14,28,19,30,-19,25,-17,26,-13,24,-8,22,-5,20,-3,19,-2,22,4,25,5,20,11,22,13,22,19,18,-14,18,-9,18,-2,14,-9,14,2,12,4,15,10,12,19,11,-13,10,-5,9,3,9,-5,4,-3,1,9,4,13,4,19,2,5,-2,-9,0,-10,-3,-17,-6,-11,-6,-18,-11,-18,-13,-18,-16,-16,-21,-9,-20,-8,-21,3,-14,14,-17,14,-13,-13,-36,-3,-34];

const ggRed="#F8766D", ggOlive="#7CAE00", ggTeal="#00BFC4", ggPurple="#C77CFF", ggGreen="#00BA38", ggBlue="#619CFF";

/* ---------- helpers ---------- */
const NS="http://www.w3.org/2000/svg";
const figure=document.getElementById("figure");
function el(tag,attrs,parent){
  const n=document.createElementNS(NS,tag);
  for(const k in attrs){n.setAttribute(k,attrs[k]);}
  parent.appendChild(n);
  return n;
}
function label(parent,x,y,str,size,anchor,extra){
  const t=el("text",Object.assign({x:x,y:y,"font-size":size,"text-anchor":anchor,"dominant-baseline":"central",fill:"#000"},extra||{}),parent);
  t.textContent=str;
  return t;
}

/* ---------- oncoplot ---------- */
function drawOncoplot(o){
  const g=el("g",{},figure);
  
  
  const L=o.left,R=L+o.width,T=141.8,rowH=19.26,cw=o.width/o.samples;
  const baseY=134.3,tmbH=90.1;

  const tmbAxis=el("path",{d:`M${L-9} ${baseY-tmbH}H${L-15.5}M${L-9} ${baseY-tmbH}V${baseY}M${L-9} ${baseY}H${L-15.5}`,fill:"none",stroke:"#333","stroke-width":1},g);
  
  
  const tmbTop=label(g,L-24,baseY-tmbH+.5,o.tmbTicks[0],12.6,"end");
  
  
  const tmbZero=label(g,L-24,baseY,o.tmbTicks[1],12.6,"end");
  
  
  const tmbTitle=label(g,0,0,"TMB",10.8,"middle",{transform:`translate(${L-39.2},89.2) rotate(-90)`});
  
  

  o.tmb.forEach(function(v,i){
    const unit=tmbH/o.tmb[0];
    const blue=(o.tmbBlue[i]||0)*unit, red=(o.tmbRed[i]||0)*unit, all=v*unit;
    const x=L+i*cw;
    const green=el("rect",{x:x,y:baseY-all,width:Math.max(cw-.2,.5),height:all,fill:variantColors.m},g);
    
    
    if(blue>0){
      const b=el("rect",{x:x,y:baseY-blue,width:Math.max(cw-.2,.5),height:blue,fill:variantColors.b},g);
      
      
    }
    if(red>0){
      const r=el("rect",{x:x,y:baseY-all,width:Math.max(cw-.2,.5),height:red,fill:variantColors.r},g);
      
      
    }
  });

  geneNames.forEach(function(gene,r){
    const y=T+r*rowH;
    const bg=el("rect",{x:L,y:y+.6,width:o.width,height:rowH-1.2,fill:"#d3d3d3"},g);
    
    
    o.rows[r].split(" ").forEach(function(tok){
      const m=tok.match(/^(\d+)([a-z])(\d+)$/);
      const cell=el("rect",{x:L+(+m[1])*cw,y:y+.6,width:(+m[3])*cw,height:rowH-1.2,fill:variantColors[m[2]]},g);
      
      
    });
    const nameT=label(g,L-6.2,y+rowH/2+.5,gene,16.4,"end",{"font-style":"italic"});
    
    
    const pct=label(g,R+1.5,y+rowH/2+.5,o.pct[r],16,"start");
    
    
    const barL=o.left+488.4,unit=126/o.maxBar;
    let cursor=barL;
    o.barStacks.forEach(function(stack){
      const w=stack.counts[r]*unit;
      if(w>0){
        const seg=el("rect",{x:cursor,y:y+.9,width:w,height:rowH-1.8,fill:variantColors[stack.code]},g);
        
        
        cursor+=w;
      }
    });
  });

  const sep=[];
  for(let i=1;i<o.samples;i++){sep.push("M"+(L+i*cw).toFixed(2)+" "+T+"v"+(rowH*20));}
  const sepPath=el("path",{d:sep.join(""),stroke:"#fff","stroke-width":.35,"stroke-opacity":.45,fill:"none"},g);
  
  

  const barL=o.left+488.4,barR=barL+126;
  const barAxis=el("path",{d:`M${barL} 130.5V137.6H${barR}V130.5`,fill:"none",stroke:"#222","stroke-width":1},g);
  
  
  const z=label(g,barL,114.9,"0",12.6,"middle");
  
  
  const mx=label(g,barR,114.9,String(o.maxBar),12.6,"middle");
  
  
  const st=label(g,barL+63,127,"No. of samples",11.4,"middle");
  
  

  const risk=el("rect",{x:L,y:535,width:o.width,height:32.3,fill:o.riskColor},g);
  
  
  const riskT=label(g,R+6.2,551.3,"Risk",16.3,"start");
  
  

  const dx=o.left-102;
  const legendYs=[585.9,604.4,622.9];
  [[o.legendOne,45.3,60],[o.legendTwo,219,233.6]].forEach(function(col){
    col[0].forEach(function(item,i){
      const s=el("rect",{x:col[1]+dx-3.6,y:legendYs[i]-3.6,width:7.2,height:7.2,fill:variantColors[item[1]]},g);
      
      
      const t=label(g,col[2]+dx,legendYs[i],item[0],16.3,"start",{fill:"#222"});
      
      
    });
  });
  const rl=label(g,412.5+dx,585,"Risk",16.3,"start",{fill:"#222"});
  
  
  const hs=el("rect",{x:422.4+dx,y:605.4,width:7.2,height:7.2,fill:"#ff0000"},g);
  
  
  const hl=label(g,440+dx,609,"high",16.3,"start",{fill:"#222"});
  
  
  const ls=el("rect",{x:422.4+dx,y:623.4,width:7.2,height:7.2,fill:"#0000ff"},g);
  
  
  const ll=label(g,440+dx,627,"low",16.3,"start",{fill:"#222"});
  
  
}

drawOncoplot({name:"oncoplot-a",left:102,width:441.6,samples:177,maxBar:72,riskColor:"#ff0000",
  rows:aMutationRuns,pct:aPercentLabels,tmb:aTmbTotals,tmbBlue:aTmbBlue,tmbRed:aTmbRed,tmbTicks:aTmbTicks,
  barStacks:[{code:"m",counts:aBarMissense},{code:"b",counts:aBarFrameDel},{code:"r",counts:aBarNonsense},{code:"p",counts:aBarFrameIns},{code:"y",counts:aBarInFrame},{code:"k",counts:aBarMultiHit}],
  legendOne:aLegendColumnOne,legendTwo:aLegendColumnTwo});
drawOncoplot({name:"oncoplot-b",left:810.6,width:441.2,samples:185,maxBar:97,riskColor:"#0000ff",
  rows:bMutationRuns,pct:bPercentLabels,tmb:bTmbTotals,tmbBlue:bTmbBlue,tmbRed:bTmbRed,tmbTicks:bTmbTicks,
  barStacks:[{code:"m",counts:bBarMissense},{code:"b",counts:bBarFrameDel},{code:"p",counts:bBarFrameIns},{code:"r",counts:bBarNonsense},{code:"y",counts:bBarInFrame},{code:"k",counts:bBarMultiHit}],
  legendOne:bLegendColumnOne,legendTwo:bLegendColumnTwo});

/* ---------- box plots ---------- */
function drawBoxPanel(p){
  const g=el("g",{},figure);
  
  
  const n=p.categories.length;
  const spacing=(p.right-p.left)/(n-1+1.2);
  const xOf=function(i){return p.left+.6*spacing+i*spacing;};
  const yOf=function(v){return p.zeroY-v*p.pxPerUnit;};
  const boxW=spacing*.7;

  p.boxes.forEach(function(b,i){
    const x=xOf(i),col=p.colors[i];
    const fill=p.filled?col:"none",line=p.filled?"#000":col;
    const wsk=el("path",{d:`M${x} ${yOf(b[4])}V${yOf(b[3])}M${x} ${yOf(b[1])}V${yOf(b[0])}`,stroke:line,"stroke-width":1.8,fill:"none"},g);
    
    
    const rect=el("rect",{x:x-boxW/2,y:yOf(b[3]),width:boxW,height:yOf(b[1])-yOf(b[3]),fill:fill,stroke:line,"stroke-width":1.8},g);
    
    
    const med=el("line",{x1:x-boxW/2,x2:x+boxW/2,y1:yOf(b[2]),y2:yOf(b[2]),stroke:line,"stroke-width":3.4},g);
    
    
  });

  (p.scatter||[]).forEach(function(vals,i){
    for(let k=0;k+1<vals.length;k+=2){
      const dot=el("circle",{cx:xOf(i)+vals[k]/100*spacing,cy:yOf(vals[k+1]/100),r:4,fill:p.colors[i]},g);
      
      
    }
  });
  (p.outliers||[]).forEach(function(vals,i){
    vals.forEach(function(v){
      const dot=el("circle",{cx:xOf(i),cy:yOf(v),r:4,fill:"#000"},g);
      
      
    });
  });

  const axes=el("path",{d:`M${p.left} ${p.top}V${p.bottom}H${p.right}`,fill:"none",stroke:"#000","stroke-width":1.7},g);
  
  

  p.tickValues.forEach(function(v,i){
    const y=yOf(v);
    const tick=el("line",{x1:p.left-4.5,x2:p.left,y1:y,y2:y,stroke:"#000","stroke-width":1.4},g);
    
    
    const t=label(g,p.left-7.5,y,p.tickLabels[i],18.9,"end");
    
    
  });
  p.categories.forEach(function(c,i){
    const x=xOf(i);
    const tick=el("line",{x1:x,x2:x,y1:p.bottom,y2:p.bottom+4.5,stroke:"#000","stroke-width":1.4},g);
    
    
    const t=label(g,x,p.bottom+15.8,c,18.9,"middle");
    
    
  });

  const yT=label(g,0,0,"Risk score",18.9,"middle",{transform:`translate(${p.yTitleX},${p.yTitleY}) rotate(-90)`});
  
  
  if(p.xTitle){
    const xT=label(g,(p.left+p.right)/2,p.bottom+39,p.xTitle,18.9,"middle");
    
    
  }

  p.brackets.forEach(function(b){
    const y=yOf(b[2]),x1=xOf(b[0]),x2=xOf(b[1]);
    const path=el("path",{d:`M${x1} ${y+p.tip}V${y}H${x2}V${y+p.tip}`,fill:"none",stroke:"#222","stroke-width":1.5},g);
    
    
    const t=label(g,(x1+x2)/2,y-10.5,b[3],17.8,"middle");
    
    
  });

  const lg=el("g",{},g);
  
  
  const title=label(lg,p.legend.titleX,p.legend.y,p.legend.title,19.4,"start");
  
  
  p.categories.forEach(function(c,i){
    const kx=p.legend.keyX[i],ky=p.legend.y,col=p.colors[i];
    const line=p.filled?"#000":col;
    const w=el("line",{x1:kx,x2:kx,y1:ky-11.6,y2:ky+11.6,stroke:line,"stroke-width":1.6},lg);
    
    
    const r=el("rect",{x:kx-11,y:ky-7.1,width:22,height:14.2,fill:p.filled?col:"#fff",stroke:line,"stroke-width":1.6},lg);
    
    
    const m=el("line",{x1:kx-11,x2:kx+11,y1:ky,y2:ky,stroke:line,"stroke-width":1.6},lg);
    
    
    if(!p.filled){
      const d=el("circle",{cx:kx,cy:ky,r:3.6,fill:col},lg);
      
      
    }
    const t=label(lg,p.legend.labelX[i],ky,p.legend.labels?p.legend.labels[i]:c,16,"start");
    
    
  });
}

drawBoxPanel({name:"panel-c-immune-subtype",left:1543.2,right:2113.2,top:157.8,bottom:597.3,zeroY:512.9,pxPerUnit:178.4,
  categories:cCategories,boxes:cBoxes,outliers:cOutliers,brackets:cBrackets,tickValues:riskTickValues,tickLabels:riskTickLabels,
  colors:[ggRed,ggOlive,ggTeal,ggPurple],filled:true,tip:7.2,yTitleX:1490.3,yTitleY:377.5,
  legend:{title:"Immune subtype",titleX:1617.6,y:115.6,keyX:[1786.9,1855.6,1924.7,1993.4],labelX:[1811,1880,1949,2017.5]}});

drawBoxPanel({name:"panel-d-t-stage",left:155.1,right:725.7,top:800.8,bottom:1240.7,zeroY:1156.4,pxPerUnit:178.6,
  categories:dCategories,boxes:dBoxes,scatter:[dScatterT1,dScatterT2,dScatterT3,dScatterT4],brackets:dBrackets,tickValues:riskTickValues,tickLabels:riskTickLabels,
  colors:[ggRed,ggOlive,ggTeal,ggPurple],tip:6.8,yTitleX:103,yTitleY:1020.5,xTitle:"T",
  legend:{title:"T",titleX:300,y:759,keyX:[335.8,403,470.3,537],labelX:[360.7,428,495.3,562]}});

drawBoxPanel({name:"panel-e-n-stage",left:847.4,right:1417.6,top:800.8,bottom:1240.7,zeroY:1156.4,pxPerUnit:178.6,
  categories:eCategories,boxes:eBoxes,scatter:[eScatterN0,eScatterN1,eScatterN2,eScatterN3],brackets:eBrackets,tickValues:riskTickValues,tickLabels:riskTickLabels,
  colors:[ggRed,ggOlive,ggTeal,ggPurple],tip:6.8,yTitleX:795.3,yTitleY:1020.5,xTitle:"N",
  legend:{title:"N",titleX:988,y:759,keyX:[1025.9,1094.9,1163.5,1232.4],labelX:[1050,1119,1187.7,1256.6]}});

drawBoxPanel({name:"panel-f-m-stage",left:1554.6,right:2113.2,top:800.8,bottom:1240.7,zeroY:1119.9,pxPerUnit:281.3,
  categories:fCategories,boxes:fBoxes,scatter:[fScatterM0,fScatterM1],brackets:fBrackets,tickValues:wideTickValues,tickLabels:wideTickLabels,
  colors:[ggRed,ggTeal],tip:11.7,yTitleX:1491,yTitleY:1020.5,xTitle:"M",
  legend:{title:"M",titleX:1755,y:759,keyX:[1795.5,1865.8],labelX:[1819.4,1889.7]}});

drawBoxPanel({name:"panel-g-stage",left:155.1,right:725.7,top:1380.7,bottom:1820.1,zeroY:1736,pxPerUnit:178.6,
  categories:gCategories,boxes:gBoxes,scatter:[gScatterStageI,gScatterStageII,gScatterStageIII,gScatterStageIV],brackets:gBrackets,tickValues:riskTickValues,tickLabels:riskTickLabels,
  colors:[ggRed,ggOlive,ggTeal,ggPurple],tip:7.2,yTitleX:103,yTitleY:1600.6,xTitle:"Stage",
  legend:{title:"Stage",titleX:202.6,y:1338.6,keyX:[277.7,377.7,482.1,591.3],labelX:[302.2,402.3,506.3,615.8]}});

drawBoxPanel({name:"panel-h-grade",left:847.5,right:1418.2,top:1380.7,bottom:1820.1,zeroY:1718.3,pxPerUnit:228.3,
  categories:hCategories,boxes:hBoxes,scatter:[hScatterG1,hScatterG2,hScatterG3],brackets:hBrackets,tickValues:gradeTickValues,tickLabels:gradeTickLabels,
  colors:[ggRed,ggGreen,ggBlue],tip:10,yTitleX:795.3,yTitleY:1600.6,xTitle:"Grade",
  legend:{title:"Grade",titleX:1000.6,y:1338.6,keyX:[1079.4,1148.8,1219],labelX:[1103.5,1172.9,1242.7]}});

drawBoxPanel({name:"panel-i-age",left:1554.6,right:2113.2,top:1380.7,bottom:1820.1,zeroY:1699.5,pxPerUnit:280.8,
  categories:iCategories,boxes:iBoxes,scatter:[iScatterYounger,iScatterOlder],brackets:iBrackets,tickValues:wideTickValues,tickLabels:wideTickLabels,
  colors:[ggRed,ggTeal],tip:12.3,yTitleX:1491,yTitleY:1600.6,xTitle:"Age",
  legend:{title:"Age",titleX:1735.7,y:1338.6,keyX:[1794.7,1880],labelX:[1819.4,1904.3]}});
</script>
</body>
</html>
